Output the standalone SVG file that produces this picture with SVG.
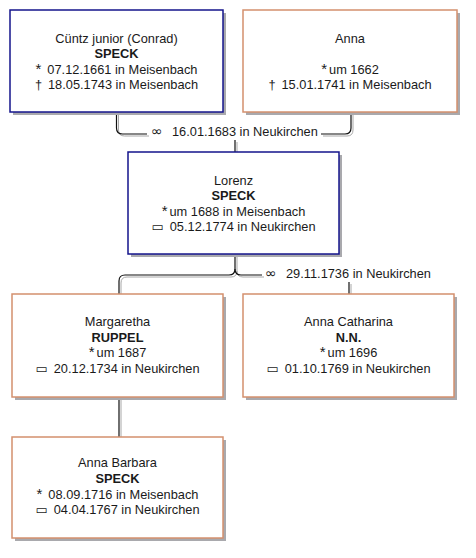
<svg xmlns="http://www.w3.org/2000/svg" width="476" height="558" viewBox="0 0 476 558">
<style>
.t{font-family:"Liberation Sans",Arial,sans-serif;font-size:12.8px;fill:#1a1a1a;text-anchor:middle}
.b{font-weight:bold}
.sym{font-family:"DejaVu Sans",sans-serif;font-size:13px}
.ast{font-family:"Liberation Sans",Arial,sans-serif;font-size:15px}
.ml{font-family:"Liberation Sans",Arial,sans-serif;font-size:12.8px;fill:#1a1a1a}
.inf{font-family:"DejaVu Sans",sans-serif;font-size:14px;fill:#1a1a1a}
.ln{fill:none;stroke:#111;stroke-width:1.2}
.lg{fill:none;stroke:#a8a8a8;stroke-width:1}
.sh{fill:#a9a9ad}
.m{fill:#fff;stroke:#14148c;stroke-width:1.5}
.f{fill:#fff;stroke:#d4906e;stroke-width:1.5}
</style>
<rect width="476" height="558" fill="#fff"/>
<g id="connectors">
  <g transform="translate(2,2)">
    <path class="lg" d="M116.5,112 V128 Q116.5,134 122.5,134 H147"/>
    <path class="lg" d="M321,134 H345 Q351,134 351,128 V112"/>
    <path class="lg" d="M235,140 V152"/>
    <path class="lg" d="M235,254 V269 Q235,275 229,275 H125 Q119,275 119,281 V437"/>
    <path class="lg" d="M235,269 Q235,275 241,275 H262"/>
    <path class="lg" d="M349,282 V294"/>
  </g>
  <path class="ln" d="M116.5,112 V128 Q116.5,134 122.5,134 H147"/>
  <path class="ln" d="M321,134 H345 Q351,134 351,128 V112"/>
  <path class="ln" d="M235,140 V152"/>
  <path class="ln" d="M235,254 V269 Q235,275 229,275 H125 Q119,275 119,281 V437"/>
  <path class="ln" d="M235,269 Q235,275 241,275 H262"/>
  <path class="ln" d="M349,282 V294"/>
  <text class="inf" x="151" y="136">∞</text>
  <text class="ml" x="172" y="136">16.01.1683 in Neukirchen</text>
  <text class="inf" x="265" y="278">∞</text>
  <text class="ml" x="286" y="278">29.11.1736 in Neukirchen</text>
</g>
<g id="cuentz">
  <rect class="sh" x="13" y="13" width="213" height="102"/>
  <rect class="m" x="10" y="10" width="213" height="102"/>
  <text class="t" x="116.5" y="42.5">Cüntz junior (Conrad)</text>
  <text class="t b" x="116.5" y="58">SPECK</text>
  <text class="t" x="116.5" y="73.5"><tspan class="ast">*</tspan><tspan dx="6">07.12.1661 in Meisenbach</tspan></text>
  <text class="t" x="116.5" y="89">†<tspan dx="6">18.05.1743 in Meisenbach</tspan></text>
</g>
<g id="anna">
  <rect class="sh" x="246" y="13" width="214" height="102"/>
  <rect class="f" x="243" y="10" width="214" height="102"/>
  <text class="t" x="350" y="42.5">Anna</text>
  <text class="t" x="350" y="73.5"><tspan class="ast">*</tspan><tspan dx="2">um 1662</tspan></text>
  <text class="t" x="350" y="89">†<tspan dx="6">15.01.1741 in Meisenbach</tspan></text>
</g>
<g id="lorenz">
  <rect class="sh" x="131" y="155" width="211" height="102"/>
  <rect class="m" x="128" y="152" width="211" height="102"/>
  <text class="t" x="233.5" y="184.5">Lorenz</text>
  <text class="t b" x="233.5" y="200">SPECK</text>
  <text class="t" x="233.5" y="215.5"><tspan class="ast">*</tspan><tspan dx="2">um 1688 in Meisenbach</tspan></text>
  <text class="t" x="233.5" y="231"><tspan class="sym">▭</tspan><tspan dx="6">05.12.1774 in Neukirchen</tspan></text>
</g>
<g id="margaretha">
  <rect class="sh" x="15" y="297" width="211" height="103"/>
  <rect class="f" x="12" y="294" width="211" height="103"/>
  <text class="t" x="117.5" y="325.7">Margaretha</text>
  <text class="t b" x="117.5" y="341.5">RUPPEL</text>
  <text class="t" x="117.5" y="357"><tspan class="ast">*</tspan><tspan dx="2">um 1687</tspan></text>
  <text class="t" x="117.5" y="372.7"><tspan class="sym">▭</tspan><tspan dx="6">20.12.1734 in Neukirchen</tspan></text>
</g>
<g id="annacatharina">
  <rect class="sh" x="246" y="297" width="211" height="103"/>
  <rect class="f" x="243" y="294" width="211" height="103"/>
  <text class="t" x="348.5" y="325.7">Anna Catharina</text>
  <text class="t b" x="348.5" y="341.5">N.N.</text>
  <text class="t" x="348.5" y="357"><tspan class="ast">*</tspan><tspan dx="2">um 1696</tspan></text>
  <text class="t" x="348.5" y="372.7"><tspan class="sym">▭</tspan><tspan dx="6">01.10.1769 in Neukirchen</tspan></text>
</g>
<g id="annabarbara">
  <rect class="sh" x="15" y="440" width="211" height="101"/>
  <rect class="f" x="12" y="437" width="211" height="101"/>
  <text class="t" x="117.5" y="467.3">Anna Barbara</text>
  <text class="t b" x="117.5" y="483">SPECK</text>
  <text class="t" x="117.5" y="498.5"><tspan class="ast">*</tspan><tspan dx="6">08.09.1716 in Meisenbach</tspan></text>
  <text class="t" x="117.5" y="514"><tspan class="sym">▭</tspan><tspan dx="6">04.04.1767 in Neukirchen</tspan></text>
</g>
</svg>
